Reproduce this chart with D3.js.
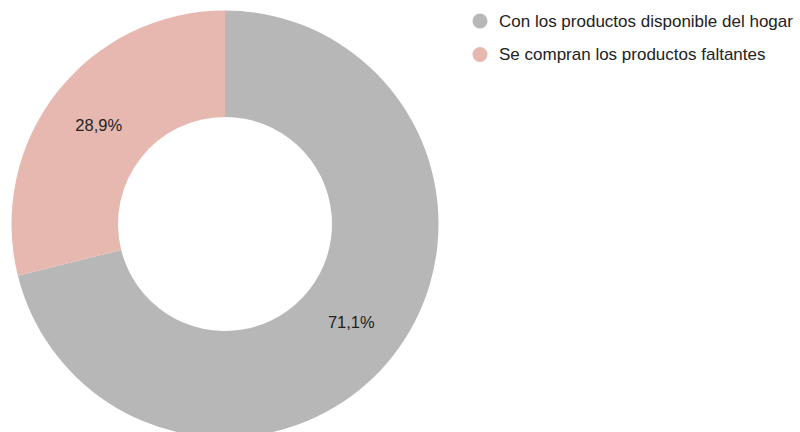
<!DOCTYPE html>
<html lang="es">
<head>
<meta charset="UTF-8">
<script src="https://d3js.org/d3.v7.min.js"></script>
<style>
    body { margin: 0; background: #fff; }
    svg { display: block; font-family: "Liberation Sans", Arial, sans-serif; }
</style>
</head>
<body>
<svg id="chart" width="800" height="432"></svg>
<script>
    // datos
    const categorias = ["Con los productos disponible del hogar", "Se compran los productos faltantes"];
    const valores = [71.1, 28.9];
    const colores = ["#b7b7b7", "#e6b8af"];

    const cx = 225, cy = 224, rOuter = 213.5, rInner = 107;

    const svg = d3.select("#chart");
    const data = categorias.map((c, i) => ({ cat: c, val: valores[i], color: colores[i] }));

    const pie = d3.pie().value(d => d.val).sort(null);
    const arc = d3.arc().innerRadius(rInner).outerRadius(rOuter);

    const g = svg.append("g").attr("transform", `translate(${cx},${cy})`);
    const arcs = pie(data);

    g.selectAll("path")
        .data(arcs)
        .enter()
        .append("path")
        .attr("d", arc)
        .attr("fill", d => d.data.color);

    const fmt = v => v.toFixed(1).replace(".", ",") + "%";

    g.selectAll("text")
        .data(arcs)
        .enter()
        .append("text")
        .attr("transform", d => `translate(${arc.centroid(d)})`)
        .attr("text-anchor", "middle")
        .attr("dy", "0.35em")
        .attr("font-size", 16.5)
        .attr("fill", "#222")
        .text(d => fmt(d.data.val));

    // leyenda
    const legend = svg.append("g").attr("transform", "translate(480,21)");
    const items = legend.selectAll("g")
        .data(data)
        .enter()
        .append("g")
        .attr("transform", (d, i) => `translate(0,${i * 33.5})`);

    items.append("circle")
        .attr("r", 7.5)
        .attr("fill", d => d.color);

    items.append("text")
        .attr("x", 19)
        .attr("dy", "0.35em")
        .attr("font-size", 17)
        .attr("fill", "#222")
        .text(d => d.cat);
</script>
</body>
</html>
